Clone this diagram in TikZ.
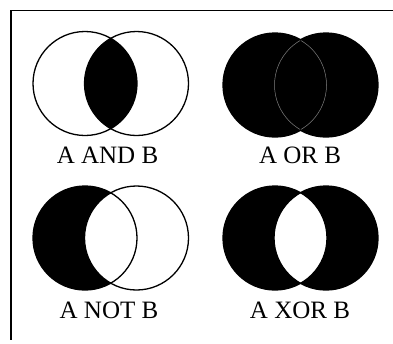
\documentclass[tikz,border=0pt]{standalone}
\usepackage{fontspec}
\setmainfont{Liberation Serif}
\tikzset{
  ring/.style={line width=1.3pt},
  lbl/.style={anchor=base, inner sep=0pt, font=\fontsize{25}{30}\selectfont}
}
\newcommand{\rad}{52}
\begin{document}
\begin{tikzpicture}[x=1pt, y=-1pt]
        \useasboundingbox (0,0) rectangle (393,343);

        % FRAME
        \draw[line width=1.2pt] (393,10.5) -- (11,10.5) -- (11,340);

        % CENTRES
        \coordinate (andA) at (85,83.5);
        \coordinate (andB) at (136.5,83.5);
        \coordinate (orA)  at (275,85);
        \coordinate (orB)  at (326,85);
        \coordinate (notA) at (85,238);
        \coordinate (notB) at (136.5,238);
        \coordinate (xorA) at (275,238);
        \coordinate (xorB) at (326,238);

        % A AND B
        \begin{scope}
          \clip (andA) circle (\rad);
          \fill (andB) circle (\rad);
        \end{scope}
        \draw[ring] (andA) circle (\rad)  (andB) circle (\rad);
        \node[lbl] (andlbl) at (107.5,163) {A AND B};

        % A OR B
        \fill (orA) circle (\rad)  (orB) circle (\rad);
        \draw[ring] (orA) circle (\rad)  (orB) circle (\rad);
        \begin{scope}
          \clip (orB) circle (\rad-1);
          \draw[gray, line width=0.5pt] (orA) circle (\rad-0.5);
        \end{scope}
        \begin{scope}
          \clip (orA) circle (\rad-1);
          \draw[gray, line width=0.5pt] (orB) circle (\rad-0.5);
        \end{scope}
        \node[lbl] (orlbl) at (300,163) {A OR B};

        % A NOT B
        \fill (notA) circle (\rad);
        \begin{scope}
          \clip (notA) circle (\rad);
          \fill[white] (notB) circle (\rad);
        \end{scope}
        \draw[ring] (notA) circle (\rad)  (notB) circle (\rad);
        \node[lbl] (notlbl) at (109,318) {A NOT B};

        % A XOR B
        \fill[even odd rule] (xorA) circle (\rad)  (xorB) circle (\rad);
        \draw[ring] (xorA) circle (\rad)  (xorB) circle (\rad);
        \node[lbl] (xorlbl) at (300,318) {A XOR B};
      \end{tikzpicture}
\end{document}
